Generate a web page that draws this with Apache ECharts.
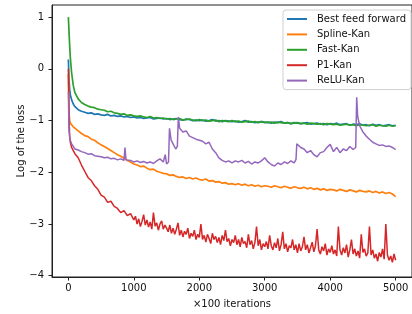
<!DOCTYPE html>
<html>
<head>
<meta charset="utf-8">
<script src="https://cdn.jsdelivr.net/npm/echarts@6/dist/echarts.min.js"></script>
<style>html,body{margin:0;padding:0;background:#fff}#c{width:412px;height:314px}</style>
</head>
<body>
<div id="c"></div>
<script>
// Shared iteration grid (×100 iterations)
const iters = [0,10,20,30,50,75,100,
  150,200,250,300,350,400,450,500,
  550,600,650,700,750,800,850,900,950,1000,
  1050,1100,1150,1200,1250,1300,1350,1400,1450,1500,
  1550,1600,1650,1700,1750,1800,1850,1900,1950,2000,
  2050,2100,2150,2200,2250,2300,2350,2400,2450,2500,
  2550,2600,2650,2700,2750,2800,2850,2900,2950,3000,
  3050,3100,3150,3200,3250,3300,3350,3400,3450,3500,
  3550,3600,3650,3700,3750,3800,3850,3900,3950,4000,
  4050,4100,4150,4200,4250,4300,4350,4400,4450,4500,
  4550,4600,4650,4700,4750,4800,4850,4900,4950,5000];

const bestFF = [0.18,-0.2,-0.4,-0.5,-0.6,-0.68,-0.73,
  -0.79,-0.82,-0.84,-0.86,-0.85,-0.88,-0.87,-0.89,
  -0.9,-0.88,-0.91,-0.9,-0.92,-0.91,-0.93,-0.92,-0.94,-0.93,
  -0.95,-0.94,-0.96,-0.95,-0.94,-0.97,-0.96,-0.95,-0.97,-0.96,
  -0.98,-0.97,-0.96,-0.98,-0.99,-0.97,-0.98,-1.0,-0.99,-1.0,
  -0.99,-1.01,-1.0,-0.98,-1.01,-1.0,-1.02,-1.0,-1.01,-1.02,
  -1.01,-1.03,-1.02,-1.0,-1.03,-1.02,-1.04,-1.03,-1.02,-1.04,
  -1.03,-1.05,-1.03,-1.04,-1.02,-1.05,-1.04,-1.06,-1.04,-1.05,
  -1.06,-1.05,-1.04,-1.07,-1.06,-1.05,-1.07,-1.06,-1.08,-1.06,
  -1.07,-1.05,-1.08,-1.07,-1.06,-1.09,-1.07,-1.08,-1.06,-1.09,
  -1.08,-1.1,-1.07,-1.09,-1.08,-1.1,-1.09,-1.08,-1.1,-1.09];

const splineKan = [-0.1,-0.85,-1.0,-1.05,-1.08,-1.12,-1.15,
  -1.2,-1.25,-1.29,-1.31,-1.36,-1.38,-1.43,-1.47,
  -1.5,-1.54,-1.58,-1.62,-1.66,-1.69,-1.73,-1.77,-1.8,-1.84,
  -1.86,-1.89,-1.88,-1.92,-1.95,-1.94,-1.98,-2.0,-2.02,-2.03,
  -2.06,-2.05,-2.08,-2.1,-2.09,-2.12,-2.1,-2.13,-2.11,-2.14,
  -2.15,-2.13,-2.17,-2.16,-2.19,-2.18,-2.21,-2.2,-2.23,-2.22,
  -2.24,-2.22,-2.25,-2.23,-2.26,-2.24,-2.27,-2.25,-2.28,-2.26,
  -2.27,-2.29,-2.26,-2.28,-2.3,-2.27,-2.29,-2.31,-2.28,-2.3,
  -2.31,-2.29,-2.32,-2.3,-2.33,-2.31,-2.34,-2.32,-2.35,-2.33,
  -2.34,-2.36,-2.33,-2.35,-2.37,-2.34,-2.36,-2.38,-2.35,-2.37,
  -2.38,-2.36,-2.39,-2.37,-2.4,-2.38,-2.41,-2.39,-2.42,-2.47];

const fastKan = [1.0,0.72,0.45,0.22,-0.08,-0.32,-0.46,
  -0.58,-0.65,-0.69,-0.72,-0.74,-0.75,-0.78,-0.79,
  -0.8,-0.83,-0.82,-0.85,-0.86,-0.88,-0.87,-0.9,-0.89,-0.91,
  -0.92,-0.91,-0.93,-0.94,-0.92,-0.95,-0.94,-0.96,-0.95,-0.97,
  -0.96,-0.98,-0.97,-0.96,-0.99,-0.98,-0.97,-0.99,-1.0,-0.98,
  -1.0,-0.99,-1.01,-1.0,-0.99,-1.02,-1.0,-1.01,-1.02,-1.0,
  -1.02,-1.01,-1.03,-1.02,-1.01,-1.03,-1.02,-1.04,-1.02,-1.03,
  -1.04,-1.03,-1.05,-1.03,-1.04,-1.05,-1.04,-1.06,-1.05,-1.04,
  -1.06,-1.05,-1.07,-1.05,-1.06,-1.07,-1.06,-1.08,-1.06,-1.07,
  -1.08,-1.07,-1.09,-1.08,-1.07,-1.09,-1.08,-1.1,-1.08,-1.09,
  -1.1,-1.09,-1.08,-1.11,-1.09,-1.1,-1.11,-1.09,-1.11,-1.1];

// P1-Kan: shared grid up to 1000, then denser grid (very noisy curve)
const p1Iters = [0,10,20,30,50,75,100,
  150,200,250,300,350,400,450,500,
  550,600,650,700,750,800,850,900,950,1000,
  1025,1050,1075,1100,1125,1150,1175,1200,1225,1250,1275,1300,1325,1350,1375,1400,1425,1450,1475,1500,
  1525,1550,1575,1600,1625,1650,1675,1700,1725,1750,1775,1800,1825,1850,1875,1900,1925,1950,1975,2000,
  2025,2050,2075,2100,2125,2150,2175,2200,2225,2250,2275,2300,2325,2350,2375,2400,2425,2450,2475,2500,
  2525,2550,2575,2600,2625,2650,2675,2700,2725,2750,2775,2800,2825,2850,2875,2900,2925,2950,2975,3000,
  3025,3050,3075,3100,3125,3150,3175,3200,3225,3250,3275,3300,3325,3350,3375,3400,3425,3450,3475,3500,
  3525,3550,3575,3600,3625,3650,3675,3700,3725,3750,3775,3800,3825,3850,3875,3900,3925,3950,3975,4000,
  4025,4050,4075,4100,4125,4150,4175,4200,4225,4250,4275,4300,4325,4350,4375,4400,4425,4450,4475,4500,
  4525,4550,4575,4600,4625,4650,4675,4700,4725,4750,4775,4800,4825,4850,4875,4900,4925,4950,4975,5000];
const p1Kan = [0.0,-0.95,-1.3,-1.42,-1.52,-1.58,-1.64,
  -1.72,-1.86,-1.98,-2.1,-2.16,-2.26,-2.33,-2.44,
  -2.48,-2.58,-2.56,-2.66,-2.7,-2.78,-2.74,-2.84,-2.8,-2.92,
  -2.85,-3.0,-2.9,-3.05,-2.95,-2.82,-3.02,-2.92,-3.06,-2.96,-3.1,-2.78,-3.04,-2.98,-3.12,-3.0,-2.94,-3.1,-3.02,-3.08,
  -3.15,-3.02,-3.18,-3.08,-3.2,-3.1,-2.98,-3.22,-3.12,-3.25,-3.14,-3.2,-3.08,-3.28,-3.18,-3.24,-3.12,-3.3,-3.2,-3.26,
  -3.0,-3.3,-3.22,-3.35,-3.2,-3.28,-3.38,-3.18,-3.3,-3.24,-3.36,-3.26,-3.4,-3.22,-3.32,-3.12,-3.34,-3.28,-3.42,-3.3,
  -3.36,-3.22,-3.4,-3.3,-3.44,-3.26,-3.38,-3.34,-3.46,-3.2,-3.4,-3.32,-3.48,-3.36,-3.05,-3.42,-3.3,-3.5,-3.38,-3.44,
  -3.34,-3.48,-3.22,-3.42,-3.5,-3.36,-3.46,-3.28,-3.52,-3.4,-3.15,-3.48,-3.38,-3.54,-3.42,-3.46,-3.3,-3.5,-3.4,-3.56,
  -3.38,-3.52,-3.44,-3.25,-3.5,-3.4,-3.56,-3.46,-3.35,-3.54,-3.42,-3.1,-3.5,-3.58,-3.44,-3.52,-3.38,-3.6,-3.48,-3.55,
  -3.42,-3.58,-3.5,-3.62,-3.05,-3.5,-3.6,-3.46,-3.56,-3.4,-3.64,-3.5,-3.3,-3.58,-3.48,-3.62,-3.52,-3.66,-3.2,-3.55,
  -3.48,-3.62,-3.56,-3.05,-3.6,-3.5,-3.66,-3.58,-3.72,-3.55,-3.64,-3.48,-3.68,-3.0,-3.6,-3.7,-3.62,-3.74,-3.58,-3.7];

// ReLU-Kan has its own grid (extra points at the spikes)
const reluIters = [0,10,20,30,50,75,100,150,200,250,
  300,350,400,450,500,550,600,650,700,750,
  800,850,865,880,900,950,1000,1050,1100,1150,
  1200,1250,1300,1350,1400,1450,1480,1500,1530,1545,
  1570,1600,1640,1665,1680,1700,1750,1800,1850,1900,
  1950,2000,2050,2100,2150,2200,2250,2300,2350,2400,
  2450,2500,2550,2600,2650,2700,2750,2800,2850,2900,
  2950,3000,3050,3100,3150,3200,3250,3300,3350,3400,
  3450,3478,3490,3550,3600,3650,3700,3750,3800,3850,
  3900,3950,4000,4050,4100,4150,4200,4250,4300,4350,
  4390,4405,4420,4450,4500,4550,4600,4650,4700,4750,
  4800,4850,4900,4950,5000];
const reluKan = [-0.45,-1.2,-1.32,-1.38,-1.45,-1.5,-1.55,-1.57,-1.6,-1.62,
  -1.65,-1.64,-1.68,-1.69,-1.7,-1.72,-1.71,-1.74,-1.73,-1.76,
  -1.74,-1.77,-1.52,-1.76,-1.78,-1.77,-1.8,-1.78,-1.81,-1.79,
  -1.82,-1.8,-1.83,-1.78,-1.74,-1.8,-1.66,-1.84,-1.8,-1.15,
  -1.38,-1.45,-1.55,-1.5,-0.93,-1.15,-1.22,-1.2,-1.3,-1.33,
  -1.36,-1.38,-1.4,-1.45,-1.42,-1.55,-1.62,-1.72,-1.77,-1.8,
  -1.78,-1.82,-1.78,-1.8,-1.77,-1.82,-1.79,-1.84,-1.8,-1.82,
  -1.78,-1.72,-1.8,-1.85,-1.88,-1.82,-1.85,-1.8,-1.83,-1.78,
  -1.82,-1.75,-1.45,-1.52,-1.55,-1.62,-1.58,-1.66,-1.7,-1.62,
  -1.6,-1.52,-1.46,-1.6,-1.52,-1.62,-1.55,-1.58,-1.5,-1.56,
  -1.52,-0.55,-0.92,-1.1,-1.22,-1.3,-1.36,-1.42,-1.45,-1.48,
  -1.47,-1.5,-1.49,-1.52,-1.56];

const seriesNames = ['Best feed forward','Spline-Kan','Fast-Kan','P1-Kan','ReLU-Kan'];
const seriesColors = ['#1f77b4','#ff7f0e','#2ca02c','#d62728','#9467bd'];
const xTicks = [0,1000,2000,3000,4000,5000];
const yTicks = [-4,-3,-2,-1,0,1];

const pair = (xs, ys) => xs.map((x, i) => [x, ys[i]]);
const seriesData = [pair(iters,bestFF), pair(iters,splineKan), pair(iters,fastKan), pair(p1Iters,p1Kan), pair(reluIters,reluKan)];
const seriesWidth = [1.7,1.7,1.7,1.5,1.5];

const FONT = 'DejaVu Sans';
const chart = echarts.init(document.getElementById('c'), null, {renderer:'canvas'});
chart.setOption({
  animation:false,
  backgroundColor:'#fff',
  textStyle:{fontFamily:FONT},
  grid:{left:52, top:5, right:-5, bottom:37, show:true, borderColor:'#222', borderWidth:1, backgroundColor:'transparent'},
  legend:{
    orient:'vertical', right:1, top:10,
    data:seriesNames.map(n=>({name:n, icon:'rect'})),
    itemWidth:20, itemHeight:2, itemGap:3.4,
    padding:[3,5,3,4],
    backgroundColor:'rgba(255,255,255,0.8)', borderColor:'#d0d0d0', borderWidth:1, borderRadius:3,
    textStyle:{fontFamily:FONT, fontSize:10, color:'#111', lineHeight:12, padding:[0,0,0,5]}
  },
  xAxis:{
    type:'value', min:-250, max:5250,
    axisLine:{show:true, onZero:false, lineStyle:{color:'#222', width:1}},
    axisTick:{show:true, customValues:xTicks, length:3.5, lineStyle:{color:'#222'}},
    axisLabel:{customValues:xTicks, fontFamily:FONT, fontSize:10, color:'#111', margin:6,
      formatter:v=>String(v)},
    splitLine:{show:false},
    name:'×100 iterations', nameLocation:'middle', nameGap:22, nameMoveOverlap:false,
    nameTextStyle:{fontFamily:FONT, fontSize:10, color:'#111'}
  },
  yAxis:{
    type:'value', min:-4.025, max:1.235,
    axisLine:{show:true, onZero:false, lineStyle:{color:'#222', width:1}},
    axisTick:{show:true, customValues:yTicks, length:3.5, lineStyle:{color:'#222'}},
    axisLabel:{customValues:yTicks, fontFamily:FONT, fontSize:10, color:'#111', margin:8,
      formatter:v=> v<0 ? '\u2212'+Math.abs(v) : String(v)},
    splitLine:{show:false},
    name:'Log of the loss', nameLocation:'middle', nameGap:26, nameMoveOverlap:false,
    nameTextStyle:{fontFamily:FONT, fontSize:10, color:'#111'}
  },
  series:seriesNames.map((n,i)=>({
    name:n, type:'line', data:seriesData[i], showSymbol:false, symbol:'none',
    color:seriesColors[i], lineStyle:{width:seriesWidth[i], color:seriesColors[i]}, z:2+i
  }))
});
</script>
</body>
</html>
